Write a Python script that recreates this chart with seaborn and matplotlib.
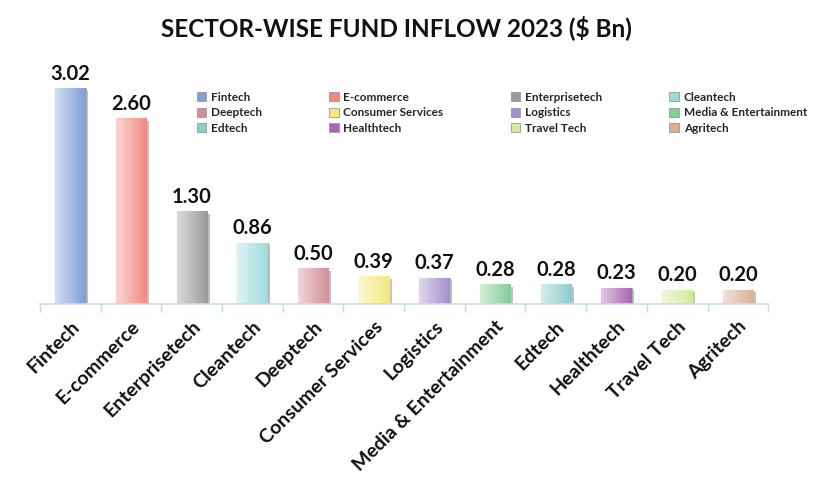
import numpy as np
import pandas as pd
import matplotlib
matplotlib.use("Agg")
import matplotlib.pyplot as plt
import matplotlib.colors as mcolors
import matplotlib.patheffects as pe
from matplotlib.patches import Patch
import seaborn as sns

categories = ["Fintech", "E-commerce", "Enterprisetech", "Cleantech", "Deeptech",
              "Consumer Services", "Logistics", "Media & Entertainment", "Edtech",
              "Healthtech", "Travel Tech", "Agritech"]
values = [3.02, 2.60, 1.30, 0.86, 0.50, 0.39, 0.37, 0.28, 0.28, 0.23, 0.20, 0.20]
value_labels = ["3.02", "2.60", "1.30", "0.86", "0.50", "0.39", "0.37", "0.28", "0.28", "0.23", "0.20", "0.20"]
colors = ["#7f9fd6", "#f08a80", "#9a9a9a", "#9fdcdc", "#d48e97", "#f2ea7a",
          "#a390cc", "#86cc99", "#8ccccc", "#a866b0", "#d4eb9a", "#dcae92"]
title = "SECTOR-WISE FUND INFLOW 2023 ($ Bn)"

sns.set_theme(style="white")
plt.rcParams['font.family'] = ['Lato', 'DejaVu Sans']

fig = plt.figure(figsize=(8.35, 4.91), dpi=100)
ax = fig.add_axes([0.048, 0.381, 0.872, 0.509])

df = pd.DataFrame({"Sector": categories, "Value": values})
sns.barplot(data=df, x="Sector", y="Value", hue="Sector", palette=colors,
            order=categories, hue_order=categories, width=0.5, legend=False,
            ax=ax, edgecolor="#b0b0b0", linewidth=0.8, saturation=1)

# gradient fill + shadow
for patch, c in zip(ax.patches, colors):
    x0, y0 = patch.get_x(), patch.get_y()
    w, h = patch.get_width(), patch.get_height()
    base = np.array(mcolors.to_rgb(c))
    light = base + (1 - base) * 0.65
    t = np.linspace(0, 1, 64)
    grad = light[None, :] * (1 - t[:, None]) + base[None, :] * t[:, None]
    img = grad[None, :, :]
    im = ax.imshow(img, extent=[x0, x0 + w, y0, y0 + h], aspect="auto",
                   zorder=patch.get_zorder() + 0.1, interpolation="bilinear")
    im.set_clip_path(patch)
    patch.set_path_effects([pe.SimplePatchShadow(offset=(2, -2), alpha=0.3), pe.Normal()])

for i, (v, lab) in enumerate(zip(values, value_labels)):
    ax.text(i, v + 0.06, lab, ha="center", va="bottom", fontsize=14.5,
            fontweight="bold", color="#111111")

ax.set_xlim(-0.5, len(categories) - 0.5)
ax.set_ylim(0, 3.5)
ax.set_xlabel("")
ax.set_ylabel("")
ax.set_yticks([])
for s in ["top", "right", "left"]:
    ax.spines[s].set_visible(False)
ax.spines["bottom"].set_color("#c9d9ee")
ax.spines["bottom"].set_linewidth(1.2)

ax.set_xticks(range(len(categories)))
ax.set_xticklabels(categories, rotation=45, ha="right", rotation_mode="anchor",
                   fontsize=14, fontweight="bold", color="#111111")
ax.tick_params(axis="x", length=0, pad=10)
ax.set_xticks(np.arange(-0.5, len(categories), 1), minor=True)
ax.tick_params(axis="x", which="minor", length=6, color="#c9d9ee", width=1.0, direction="out", bottom=True)

# legend in row-major order
handles = [Patch(facecolor=c, edgecolor="#999999", linewidth=0.6, label=l) for c, l in zip(colors, categories)]
ncol = 4
nrow = 3
order = [r * ncol + c for c in range(ncol) for r in range(nrow)]
leg = fig.legend([handles[i] for i in order], [categories[i] for i in order],
                 ncol=ncol, loc="upper left", bbox_to_anchor=(0.223, 0.835),
                 frameon=False, handlelength=0.8, handleheight=0.8,
                 handletextpad=0.4, columnspacing=5.7, labelspacing=0.4,
                 prop={"weight": "bold", "size": 8.5})

fig.text(0.475, 0.943, title, ha="center", va="center", fontsize=17.5, fontweight="bold", color="#111111")

fig.savefig("out.png", dpi=100)
